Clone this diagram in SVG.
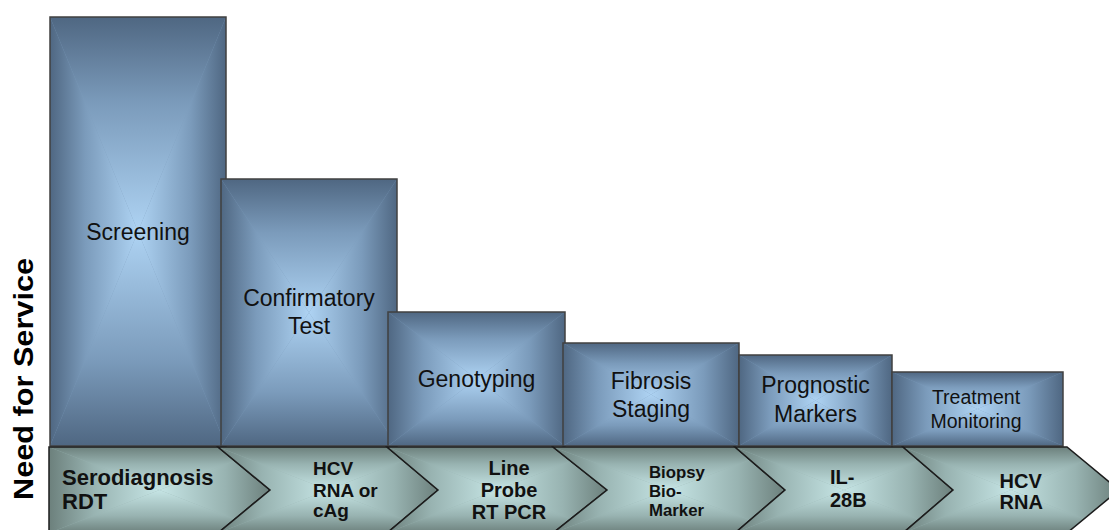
<svg xmlns="http://www.w3.org/2000/svg" width="1109" height="530" viewBox="0 0 1109 530">
  <style>
    .box-frame { fill: none; stroke: #404040; stroke-width: 1.5; }
    .chev-frame { fill: none; stroke: #1c1c1c; stroke-width: 1.5; stroke-linejoin: miter; }
    .lbl { font-family: "Liberation Sans", Arial, sans-serif; font-size: 23px; fill: #111; text-anchor: middle; }
    .step { font-family: "Liberation Sans", Arial, sans-serif; font-weight: bold; fill: #111; }
    .axis { font-family: "Liberation Sans", Arial, sans-serif; font-weight: bold; font-size: 27px; fill: #000; text-anchor: middle; }
  </style>
  <defs>
    <!-- rectangular "path" shading: each face is one triangle, edge -> centre -->
    <linearGradient id="bT" x1="0" y1="0" x2="0" y2="1"><stop offset="0" stop-color="#4f6782"/><stop offset="0.4" stop-color="#7b9bbb"/><stop offset="1" stop-color="#aed3f3"/></linearGradient>
    <linearGradient id="bB" x1="0" y1="1" x2="0" y2="0"><stop offset="0" stop-color="#4f6782"/><stop offset="0.4" stop-color="#7b9bbb"/><stop offset="1" stop-color="#aed3f3"/></linearGradient>
    <linearGradient id="bL" x1="0" y1="0" x2="1" y2="0"><stop offset="0" stop-color="#4f6782"/><stop offset="0.4" stop-color="#7b9bbb"/><stop offset="1" stop-color="#aed3f3"/></linearGradient>
    <linearGradient id="bR" x1="1" y1="0" x2="0" y2="0"><stop offset="0" stop-color="#4f6782"/><stop offset="0.4" stop-color="#7b9bbb"/><stop offset="1" stop-color="#aed3f3"/></linearGradient>

    <linearGradient id="cT" x1="0" y1="0" x2="0" y2="1"><stop offset="0" stop-color="#6c807c"/><stop offset="0.4" stop-color="#98b3b1"/><stop offset="1" stop-color="#c6e5e5"/></linearGradient>
    <linearGradient id="cB" x1="0" y1="1" x2="0" y2="0"><stop offset="0" stop-color="#6c807c"/><stop offset="0.4" stop-color="#98b3b1"/><stop offset="1" stop-color="#c6e5e5"/></linearGradient>
    <linearGradient id="cL" x1="0" y1="0" x2="1" y2="0"><stop offset="0" stop-color="#6c807c"/><stop offset="0.4" stop-color="#98b3b1"/><stop offset="1" stop-color="#c6e5e5"/></linearGradient>
    <linearGradient id="cR" x1="1" y1="0" x2="0" y2="0"><stop offset="0" stop-color="#6c807c"/><stop offset="0.4" stop-color="#98b3b1"/><stop offset="1" stop-color="#c6e5e5"/></linearGradient>

    <clipPath id="clip-c1"><polygon points="49,447 218,447 270,490 218,533 49,533"/></clipPath>
    <clipPath id="clip-c2"><polygon points="218,447 387,447 438,490 387,533 218,533 270,490"/></clipPath>
    <clipPath id="clip-c3"><polygon points="387,447 553,447 607,490 553,533 387,533 438,490"/></clipPath>
    <clipPath id="clip-c4"><polygon points="553,447 735,447 785,490 735,533 553,533 607,490"/></clipPath>
    <clipPath id="clip-c5"><polygon points="735,447 903,447 953,490 903,533 735,533 785,490"/></clipPath>
    <clipPath id="clip-c6"><polygon points="903,447 1067,447 1119,490 1067,533 903,533 953,490"/></clipPath>
  </defs>

  <rect width="1109" height="530" fill="#fff"/>

  <!-- vertical axis caption -->
  <text class="axis" transform="translate(33,379) rotate(-90)" textLength="242" lengthAdjust="spacingAndGlyphs">Need for Service</text>

  <!-- service bars -->
  <g id="screening">
    <rect x="50" y="17" width="176" height="429" fill="#7b9bbb"/>
    <polygon points="50,17 226,17 138,231.5" fill="url(#bT)"/>
    <polygon points="50,446 226,446 138,231.5" fill="url(#bB)"/>
    <polygon points="50,17 50,446 138,231.5" fill="url(#bL)"/>
    <polygon points="226,17 226,446 138,231.5" fill="url(#bR)"/>
    <rect class="box-frame" x="50" y="17" width="176" height="429"/>
    <text class="lbl" x="138" y="240">Screening</text>
  </g>
  <g id="confirmatory">
    <rect x="221" y="179" width="176" height="267" fill="#7b9bbb"/>
    <polygon points="221,179 397,179 309,312.5" fill="url(#bT)"/>
    <polygon points="221,446 397,446 309,312.5" fill="url(#bB)"/>
    <polygon points="221,179 221,446 309,312.5" fill="url(#bL)"/>
    <polygon points="397,179 397,446 309,312.5" fill="url(#bR)"/>
    <rect class="box-frame" x="221" y="179" width="176" height="267"/>
    <text class="lbl" x="309" y="306">Confirmatory</text>
    <text class="lbl" x="309" y="334">Test</text>
  </g>
  <g id="genotyping">
    <rect x="388" y="312" width="177" height="134" fill="#7b9bbb"/>
    <polygon points="388,312 565,312 476.5,379" fill="url(#bT)"/>
    <polygon points="388,446 565,446 476.5,379" fill="url(#bB)"/>
    <polygon points="388,312 388,446 476.5,379" fill="url(#bL)"/>
    <polygon points="565,312 565,446 476.5,379" fill="url(#bR)"/>
    <rect class="box-frame" x="388" y="312" width="177" height="134"/>
    <text class="lbl" x="476.5" y="387">Genotyping</text>
  </g>
  <g id="fibrosis">
    <rect x="563" y="343" width="176" height="103" fill="#7b9bbb"/>
    <polygon points="563,343 739,343 651,394.5" fill="url(#bT)"/>
    <polygon points="563,446 739,446 651,394.5" fill="url(#bB)"/>
    <polygon points="563,343 563,446 651,394.5" fill="url(#bL)"/>
    <polygon points="739,343 739,446 651,394.5" fill="url(#bR)"/>
    <rect class="box-frame" x="563" y="343" width="176" height="103"/>
    <text class="lbl" x="651" y="389">Fibrosis</text>
    <text class="lbl" x="651" y="417">Staging</text>
  </g>
  <g id="prognostic">
    <rect x="739" y="355" width="153" height="91" fill="#7b9bbb"/>
    <polygon points="739,355 892,355 815.5,400.5" fill="url(#bT)"/>
    <polygon points="739,446 892,446 815.5,400.5" fill="url(#bB)"/>
    <polygon points="739,355 739,446 815.5,400.5" fill="url(#bL)"/>
    <polygon points="892,355 892,446 815.5,400.5" fill="url(#bR)"/>
    <rect class="box-frame" x="739" y="355" width="153" height="91"/>
    <text class="lbl" x="815.5" y="393">Prognostic</text>
    <text class="lbl" x="815.5" y="421.5">Markers</text>
  </g>
  <g id="monitoring">
    <rect x="892" y="372" width="171" height="74" fill="#7b9bbb"/>
    <polygon points="892,372 1063,372 977.5,409" fill="url(#bT)"/>
    <polygon points="892,446 1063,446 977.5,409" fill="url(#bB)"/>
    <polygon points="892,372 892,446 977.5,409" fill="url(#bL)"/>
    <polygon points="1063,372 1063,446 977.5,409" fill="url(#bR)"/>
    <rect class="box-frame" x="892" y="372" width="171" height="74"/>
    <text class="lbl" x="976" y="404" style="font-size:19.5px">Treatment</text>
    <text class="lbl" x="976" y="427.5" style="font-size:19.5px">Monitoring</text>
  </g>

  <!-- process chevrons along the base -->
  <g id="connectors">
    <g id="step-rdt">
      <g clip-path="url(#clip-c1)">
        <rect x="49" y="447" width="221" height="86" fill="#98b3b1"/>
        <polygon points="49,447 270,447 159.5,490" fill="url(#cT)"/>
        <polygon points="49,533 270,533 159.5,490" fill="url(#cB)"/>
        <polygon points="49,447 49,533 159.5,490" fill="url(#cL)"/>
        <polygon points="270,447 270,533 159.5,490" fill="url(#cR)"/>
      </g>
      <polygon class="chev-frame" points="49,447 218,447 270,490 218,533 49,533"/>
      <text class="step" style="font-size:22px" x="62" y="485">Serodiagnosis</text>
      <text class="step" style="font-size:22px" x="62" y="509">RDT</text>
    </g>
    <g id="step-rna">
      <g clip-path="url(#clip-c2)">
        <rect x="218" y="447" width="220" height="86" fill="#98b3b1"/>
        <polygon points="218,447 438,447 328,490" fill="url(#cT)"/>
        <polygon points="218,533 438,533 328,490" fill="url(#cB)"/>
        <polygon points="218,447 218,533 328,490" fill="url(#cL)"/>
        <polygon points="438,447 438,533 328,490" fill="url(#cR)"/>
      </g>
      <polygon class="chev-frame" points="218,447 387,447 438,490 387,533 218,533 270,490"/>
      <text class="step" style="font-size:19px" x="313" y="475">HCV</text>
      <text class="step" style="font-size:19px" x="313" y="497">RNA or</text>
      <text class="step" style="font-size:19px" x="313" y="517">cAg</text>
    </g>
    <g id="step-probe">
      <g clip-path="url(#clip-c3)">
        <rect x="387" y="447" width="220" height="86" fill="#98b3b1"/>
        <polygon points="387,447 607,447 497,490" fill="url(#cT)"/>
        <polygon points="387,533 607,533 497,490" fill="url(#cB)"/>
        <polygon points="387,447 387,533 497,490" fill="url(#cL)"/>
        <polygon points="607,447 607,533 497,490" fill="url(#cR)"/>
      </g>
      <polygon class="chev-frame" points="387,447 553,447 607,490 553,533 387,533 438,490"/>
      <text class="step" style="font-size:20px;text-anchor:middle" x="509" y="475">Line</text>
      <text class="step" style="font-size:20px;text-anchor:middle" x="509" y="497">Probe</text>
      <text class="step" style="font-size:20px;text-anchor:middle" x="509" y="519">RT PCR</text>
    </g>
    <g id="step-biopsy">
      <g clip-path="url(#clip-c4)">
        <rect x="553" y="447" width="232" height="86" fill="#98b3b1"/>
        <polygon points="553,447 785,447 669,490" fill="url(#cT)"/>
        <polygon points="553,533 785,533 669,490" fill="url(#cB)"/>
        <polygon points="553,447 553,533 669,490" fill="url(#cL)"/>
        <polygon points="785,447 785,533 669,490" fill="url(#cR)"/>
      </g>
      <polygon class="chev-frame" points="553,447 735,447 785,490 735,533 553,533 607,490"/>
      <text class="step" style="font-size:16.8px" x="649" y="478">Biopsy</text>
      <text class="step" style="font-size:16.8px" x="649" y="496.5">Bio-</text>
      <text class="step" style="font-size:16.8px" x="649" y="515.5">Marker</text>
    </g>
    <g id="step-il28b">
      <g clip-path="url(#clip-c5)">
        <rect x="735" y="447" width="218" height="86" fill="#98b3b1"/>
        <polygon points="735,447 953,447 844,490" fill="url(#cT)"/>
        <polygon points="735,533 953,533 844,490" fill="url(#cB)"/>
        <polygon points="735,447 735,533 844,490" fill="url(#cL)"/>
        <polygon points="953,447 953,533 844,490" fill="url(#cR)"/>
      </g>
      <polygon class="chev-frame" points="735,447 903,447 953,490 903,533 735,533 785,490"/>
      <text class="step" style="font-size:20px" x="830" y="484">IL-</text>
      <text class="step" style="font-size:20px" x="830" y="507">28B</text>
    </g>
    <g id="step-hcvrna">
      <g clip-path="url(#clip-c6)">
        <rect x="903" y="447" width="216" height="86" fill="#98b3b1"/>
        <polygon points="903,447 1119,447 1011,490" fill="url(#cT)"/>
        <polygon points="903,533 1119,533 1011,490" fill="url(#cB)"/>
        <polygon points="903,447 903,533 1011,490" fill="url(#cL)"/>
        <polygon points="1119,447 1119,533 1011,490" fill="url(#cR)"/>
      </g>
      <polygon class="chev-frame" points="903,447 1067,447 1119,490 1067,533 903,533 953,490"/>
      <text class="step" style="font-size:20px" x="999.5" y="488">HCV</text>
      <text class="step" style="font-size:20px" x="999.5" y="508.5">RNA</text>
    </g>
  </g>
</svg>
